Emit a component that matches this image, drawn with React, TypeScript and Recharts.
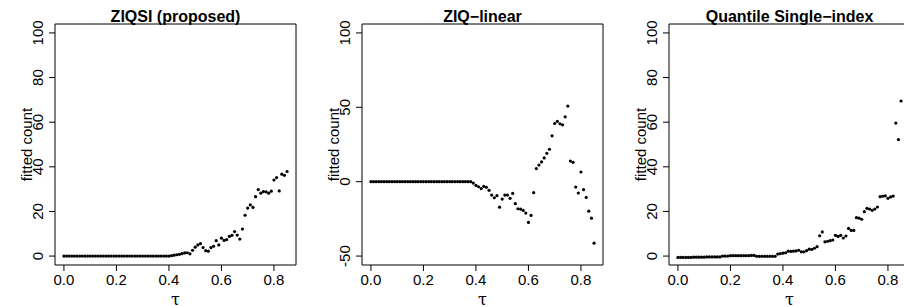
import React from 'react';
import { ScatterChart, Scatter, XAxis, YAxis, ReferenceArea } from 'recharts';

// quantile levels (x axis)
const tau = [
  0.0, 0.01, 0.02, 0.03, 0.04, 0.05, 0.06, 0.07, 0.08, 0.09,
  0.1, 0.11, 0.12, 0.13, 0.14, 0.15, 0.16, 0.17, 0.18, 0.19,
  0.2, 0.21, 0.22, 0.23, 0.24, 0.25, 0.26, 0.27, 0.28, 0.29,
  0.3, 0.31, 0.32, 0.33, 0.34, 0.35, 0.36, 0.37, 0.38, 0.39,
  0.4, 0.41, 0.42, 0.43, 0.44, 0.45, 0.46, 0.47, 0.48, 0.49,
  0.5, 0.51, 0.52, 0.53, 0.54, 0.55, 0.56, 0.57, 0.58, 0.59,
  0.6, 0.61, 0.62, 0.63, 0.64, 0.65, 0.66, 0.67, 0.68, 0.69,
  0.7, 0.71, 0.72, 0.73, 0.74, 0.75, 0.76, 0.77, 0.78, 0.79,
  0.8, 0.81, 0.82, 0.83, 0.84, 0.85,
];

// ZIQSI (proposed)
const ziqsi = [
  0, 0, 0, 0, 0, 0, 0, 0, 0, 0,
  0, 0, 0, 0, 0, 0, 0, 0, 0, 0,
  0, 0, 0, 0, 0, 0, 0, 0, 0, 0,
  0, 0, 0, 0, 0, 0, 0, 0, 0, 0,
  0, 0.2, 0.4, 0.6, 0.8, 1.1, 1.4, 1.5, 1.0, 2.6,
  4.0, 5.0, 5.6, 3.8, 2.4, 2.2, 3.8, 4.4, 6.9, 5.0,
  8.0, 7.0, 7.4, 8.8, 9.3, 11.0, 9.4, 7.6, 12.1, 18.3,
  21.5, 22.9, 21.8, 26.6, 29.8, 28.2, 28.9, 28.8, 28.2, 29.1,
  34.1, 35.2, 29.2, 36.7, 36.2, 37.9,
];

// ZIQ-linear
const ziqLinear = [
  0, 0, 0, 0, 0, 0, 0, 0, 0, 0,
  0, 0, 0, 0, 0, 0, 0, 0, 0, 0,
  0, 0, 0, 0, 0, 0, 0, 0, 0, 0,
  0, 0, 0, 0, 0, 0, 0, 0, 0, -0.9,
  -2.5, -3.4, -4.7, -3.1, -3.8, -5.8, -9.0, -10.8, -9.4, -17.1,
  -11.7, -9.0, -9.0, -11.2, -7.9, -14.8, -18.2, -18.4, -19.3, -21.1,
  -27.4, -22.7, -7.4, 8.8, 11.2, 13.3, 16.0, 19.1, 21.8, 30.8,
  39.1, 40.6, 38.9, 38.2, 43.6, 50.8, 13.9, 13.0, -3.6, -7.6,
  6.5, -5.4, -10.6, -19.8, -24.5, -41.3,
];

// Quantile Single-index
const qsi = [
  -0.6, -0.6, -0.6, -0.6, -0.6, -0.6, -0.5, -0.5, -0.5, -0.5,
  -0.5, -0.4, -0.4, -0.4, -0.4, -0.4, -0.4, 0.0, 0.0, 0.0,
  0.2, 0.2, 0.2, 0.2, 0.2, 0.2, 0.2, 0.2, 0.3, 0.3,
  -0.1, -0.1, -0.1, -0.1, -0.1, -0.1, -0.1, -0.1, 0.9, 1.1,
  1.3, 1.5, 2.2, 2.1, 2.2, 2.3, 2.6, 1.9, 1.9, 2.4,
  3.1, 3.0, 3.5, 4.2, 9.1, 10.8, 6.4, 6.6, 6.9, 7.2,
  9.3, 8.8, 9.3, 8.1, 9.0, 12.4, 11.5, 11.5, 17.2, 17.0,
  16.5, 19.9, 21.4, 21.1, 20.5, 21.1, 22.0, 26.6, 26.8, 27.0,
  25.9, 26.5, 26.9, 59.6, 52.2, 69.5,
];

const xTicks = [0, 0.2, 0.4, 0.6, 0.8];
const yTicksA = [0, 20, 40, 60, 80, 100];
const yTicksB = [-50, 0, 50, 100];

const FONT = 'Liberation Sans, Arial, Helvetica, sans-serif';
const X_DOMAIN = [-0.034, 0.884];

const Dot = (props: any) => <circle cx={props.cx} cy={props.cy} r={1.6} fill="#000" />;

const XTick = ({ x, y, payload }: any) => (
  <text x={x} y={285} textAnchor="middle" fontSize={15} fontFamily={FONT} fill="#000">
    {Number(payload.value).toFixed(1)}
  </text>
);

const YTick = ({ y, payload }: any) => (
  <text
    x={43.5}
    y={y}
    transform={`rotate(-90, 43.5, ${y})`}
    textAnchor="middle"
    fontSize={15}
    fontFamily={FONT}
    fill="#000"
  >
    {payload.value}
  </text>
);

function Panel({ title, values, yDomain, yTicks, left }: any) {
  const data = tau.map((t, i) => ({ tau: t, fit: values[i] }));
  return (
    <div style={{ position: 'absolute', left, top: 0, width: 307, height: 307 }}>
      <ScatterChart width={307} height={307} margin={{ top: 24, right: 11, bottom: 0, left: 0 }}>
        <XAxis
          type="number"
          dataKey="tau"
          domain={X_DOMAIN}
          ticks={xTicks}
          interval={0}
          height={42}
          axisLine={false}
          tickLine={{ stroke: '#000' }}
          tickSize={6}
          tick={<XTick />}
        />
        <YAxis
          type="number"
          dataKey="fit"
          domain={yDomain}
          ticks={yTicks}
          interval={0}
          width={55}
          axisLine={false}
          tickLine={{ stroke: '#000' }}
          tickSize={6}
          tick={<YTick />}
        />
        <ReferenceArea
          x1={X_DOMAIN[0]}
          x2={X_DOMAIN[1]}
          y1={yDomain[0]}
          y2={yDomain[1]}
          fill="none"
          fillOpacity={0}
          stroke="#000"
          strokeWidth={1}
          ifOverflow="visible"
        />
        <Scatter data={data} shape={<Dot />} isAnimationActive={false} />
      </ScatterChart>
      <svg width={307} height={307} style={{ position: 'absolute', left: 0, top: 0, pointerEvents: 'none' }}>
        <text x={175.5} y={21.5} textAnchor="middle" fontSize={16} fontWeight="bold" fontFamily={FONT} fill="#000">
          {title}
        </text>
        <text
          x={31.5}
          y={144.5}
          transform="rotate(-90, 31.5, 144.5)"
          textAnchor="middle"
          fontSize={15}
          fontFamily={FONT}
          fill="#000"
        >
          fitted count
        </text>
        <text x={175.5} y={304.5} textAnchor="middle" fontSize={16} fontFamily="DejaVu Serif, serif" fill="#000">
          τ
        </text>
      </svg>
    </div>
  );
}

export default function App() {
  return (
    <div
      style={{
        position: 'fixed',
        left: 0,
        top: 0,
        width: 904,
        height: 307,
        overflow: 'hidden',
        background: '#fff',
      }}
    >
      <Panel title="ZIQSI (proposed)" values={ziqsi} yDomain={[-4, 104]} yTicks={yTicksA} left={0} />
      <Panel title="ZIQ−linear" values={ziqLinear} yDomain={[-56, 106]} yTicks={yTicksB} left={307} />
      <Panel title="Quantile Single−index" values={qsi} yDomain={[-4, 104]} yTicks={yTicksA} left={614} />
    </div>
  );
}
